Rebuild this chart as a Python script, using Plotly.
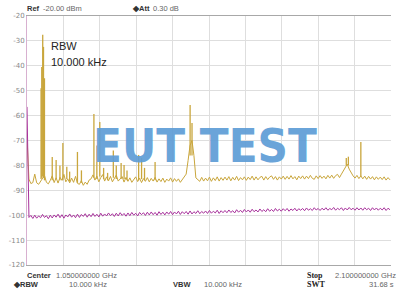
import numpy as np
import plotly.graph_objects as go

# ---------------- data ----------------
F_STOP_GHZ = 2.1
y_ticks = [-20, -30, -40, -50, -60, -70, -80, -90, -100, -110, -120]
y_tick_labels = ["-20", "-30", "-40", "-50", "-60", "-70", "-80", "-90", "-100", "-110", "-120"]

# trace 1 (yellow) - noise floor sampled uniformly 0..2.094 GHz (dBm)
trace1_floor = [
    -68.5, -85.5, -87.3, -86.9, -83.5, -87.0, -87.6, -86.4, -85.2, -84.0, -86.8, -87.4, -86.0,
    -84.2, -86.9, -85.0, -87.1, -84.8, -86.0, -83.6, -86.6, -85.4, -87.0,
    -85.1, -86.8, -84.4, -87.2, -87.6, -86.1, -88.0, -86.7, -87.6, -85.9,
    -85.4, -83.8, -85.9, -84.3, -86.6, -84.9, -83.7, -86.3, -84.6, -86.2,
    -84.4, -86.6, -85.0, -83.9, -86.3, -85.2, -84.5, -86.7, -84.8, -86.4,
    -85.0, -86.8, -85.6, -84.6, -86.5, -85.1, -86.9, -85.3, -86.4, -84.9,
    -86.6, -85.2, -86.3, -84.8, -86.7, -85.4, -86.5, -85.1, -86.8, -85.5,
    -86.3, -85.0, -86.7, -85.3, -86.4, -85.4, -86.8, -85.6, -84.8, -83.5,
    -78.0, -72.0, -70.0, -76.0, -85.0, -85.9, -86.4, -84.8, -86.3, -85.1,
    -86.2, -84.7, -86.4, -85.0, -86.1, -84.6, -86.3, -84.9, -86.0, -84.7,
    -85.9, -84.5, -86.2, -84.8, -85.9, -84.4, -86.1, -84.9, -85.8, -84.6,
    -86.0, -84.7, -85.7, -84.3, -85.9, -84.6, -85.8, -84.8, -84.4, -85.9,
    -84.5, -85.7, -84.7, -84.2, -85.6, -84.5, -85.9, -84.6, -85.5, -84.3,
    -85.6, -84.4, -85.5, -84.1, -85.4, -84.5, -85.8, -84.3, -85.3, -84.2,
    -85.5, -84.3, -85.3, -84.0, -85.2, -85.6, -84.2, -85.3, -84.1, -85.2,
    -84.3, -85.4, -84.0, -85.1, -83.9, -85.2, -84.1, -83.6, -84.9, -83.5,
    -82.0, -80.5, -79.5, -81.5, -83.0, -84.2, -85.1, -84.0, -85.3, -84.2,
    -85.4, -84.3, -85.6, -84.4, -85.5, -84.5, -85.8, -84.6, -85.6, -84.7,
    -85.7, -84.6, -85.9, -84.9, -85.8,
]

# trace 1 (yellow) - discrete spurs: frequency (GHz), base level and peak level (dBm)
spur_freq_ghz = [0.0812, 0.0851, 0.0907, 0.0952, 0.1008, 0.1456, 0.168, 0.190, 0.207, 0.2296,
                 0.246, 0.291, 0.314, 0.386, 0.403, 0.420, 0.442, 0.465, 0.498, 0.515,
                 0.543, 0.560, 0.577, 0.644, 0.661, 0.678, 0.739, 0.941, 0.952, 1.842,
                 1.854, 1.926]
spur_base_dbm = [-85.5, -85.0, -84.5, -85.0, -86.0, -86.0, -85.5, -86.0, -86.0, -85.5,
                 -86.5, -87.0, -87.0, -85.0, -85.5, -84.5, -85.5, -86.0, -85.0, -85.5,
                 -85.5, -85.5, -86.0, -86.0, -85.5, -86.0, -86.0, -76.0, -76.0, -80.0,
                 -80.0, -84.5]
spur_level_dbm = [-49.0, -40.5, -27.5, -32.4, -45.0, -76.6, -77.8, -80.0, -71.0, -80.5,
                  -82.5, -74.6, -82.0, -59.4, -72.0, -62.6, -81.0, -83.0, -74.0, -80.0,
                  -79.0, -79.8, -82.0, -75.8, -77.0, -81.0, -78.6, -55.7, -63.0, -77.0,
                  -76.5, -70.6]

# trace 2 (magenta) sampled uniformly 0..2.094 GHz (dBm)
trace2 = [
    -56.5, -100.9, -100.1, -101.3, -100.0, -101.2, -100.3, -101.0, -99.7, -100.9, -100.2, -101.4, -100.0,
    -101.1, -99.9, -100.8, -99.6, -101.0, -99.8, -101.2, -99.9, -100.7, -99.5,
    -100.8, -99.9, -101.0, -99.6, -100.9, -99.7, -100.5, -99.4, -100.8, -99.6,
    -100.6, -99.3, -100.5, -99.6, -100.7, -99.2, -100.4, -99.5, -100.3, -99.1,
    -100.2, -99.4, -100.5, -99.2, -100.3, -99.0, -100.1, -99.3, -100.4, -99.1,
    -100.2, -98.9, -100.0, -99.2, -100.3, -98.9, -99.8, -99.0, -100.1, -98.8,
    -99.9, -98.7, -99.8, -98.9, -100.0, -98.6, -99.7, -98.8, -99.9, -98.7,
    -99.6, -98.5, -99.8, -98.7, -99.5, -98.4, -99.7, -98.6, -99.4, -98.5,
    -99.6, -98.3, -99.5, -98.6, -99.3, -98.2, -99.4, -98.5, -99.2, -98.3,
    -99.3, -98.1, -99.2, -98.4, -99.1, -98.0, -99.3, -98.2, -99.0, -98.1,
    -99.0, -97.9, -98.9, -98.2, -99.1, -97.8, -98.8, -98.0, -98.9, -97.7,
    -98.7, -97.9, -98.8, -97.6, -98.6, -97.9, -98.7, -97.5, -98.5, -97.8,
    -98.6, -97.4, -98.4, -97.7, -98.5, -97.3, -98.3, -97.6, -98.4, -97.4,
    -98.2, -97.3, -98.4, -97.5, -98.1, -97.2, -98.3, -97.4, -98.0, -97.3,
    -98.2, -97.1, -98.0, -97.4, -98.1, -97.0, -97.9, -97.3, -98.1, -97.2,
    -97.9, -97.0, -98.0, -97.3, -97.8, -96.9, -98.0, -97.2, -97.8, -97.0,
    -98.1, -97.1, -97.9, -96.9, -97.8, -97.2, -98.0, -97.0, -97.9, -97.1,
    -98.0, -97.0, -97.8, -97.2, -98.1, -97.0, -97.9, -97.1, -98.0, -97.2,
    -97.9, -97.0, -98.1, -97.2, -97.8,
]

header_texts = ["Ref", "-20.00 dBm", "\u25c6Att", "0.30 dB"]
footer_texts = ["Center", "1.050000000 GHz", "\u25c6RBW", "10.000 kHz", "VBW", "10.000 kHz",
                "Stop", "2.100000000 GHz", "SWT", "31.68 s"]
rbw_label = ["RBW", "10.000 kHz"]
watermark = "EUT TEST"

# ---------------- build ----------------
f1 = np.linspace(0, 2.094, len(trace1_floor))
f2 = np.linspace(0, 2.094, len(trace2))

# spurs drawn as thin vertical lines
sx, sy = [], []
for f, b, p in zip(spur_freq_ghz, spur_base_dbm, spur_level_dbm):
    sx += [f, f, None]
    sy += [b, p, None]

fig = go.Figure()
fig.add_trace(go.Scatter(x=f1, y=trace1_floor, mode="lines",
                         line=dict(color="#c9a63c", width=1), hoverinfo="skip"))
fig.add_trace(go.Scatter(x=sx, y=sy, mode="lines", connectgaps=False,
                         line=dict(color="#c9a63c", width=1.3), hoverinfo="skip"))
fig.add_trace(go.Scatter(x=f2, y=trace2, mode="lines",
                         line=dict(color="#a8329c", width=1), hoverinfo="skip"))

L, R, T, B = 16, 9, 16, 27
W, H = 400, 292
PW, PH = W - L - R, H - T - B


def px(x):
    return (x - L) / PW


def py(y):
    return (H - B - y) / PH


def ann(text, x, y, size=7.5, color="#555", bold=False, family="Liberation Sans",
        xanchor="left"):
    t = f"<b>{text}</b>" if bold else text
    return dict(text=t, x=px(x), y=py(y), xref="paper", yref="paper", showarrow=False,
                xanchor=xanchor, yanchor="middle", font=dict(size=size, color=color, family=family))


annotations = [
    ann(header_texts[0], 14, 8, size=7.5, color="#333", bold=True),
    ann(header_texts[1], 30, 8, size=7.5, color="#666"),
    ann(header_texts[2], 122, 8, size=7.5, color="#333", bold=True),
    ann(header_texts[3], 144, 8, size=7.5, color="#666"),
    ann(footer_texts[0], 14, 275, size=7.5, color="#333", bold=True),
    ann(footer_texts[1], 44, 275, size=7.5, color="#666"),
    ann(footer_texts[2], 0, 284, size=7.5, color="#333", bold=True),
    ann(footer_texts[3], 100, 284, size=7.5, color="#666", xanchor="right"),
    ann(footer_texts[4], 164, 284, size=7.5, color="#333", bold=True),
    ann(footer_texts[5], 240, 284, size=7.5, color="#666", xanchor="right"),
    ann(footer_texts[6], 302, 275, size=8, color="#222", bold=True, family="Liberation Serif"),
    ann(footer_texts[7], 398, 275, size=7.5, color="#666", xanchor="right"),
    ann(footer_texts[8], 302, 284, size=8, color="#222", bold=True, family="Liberation Serif"),
    ann(footer_texts[9], 396, 284, size=7.5, color="#666", xanchor="right"),
    ann(rbw_label[0], 39, 46, size=11, color="#222"),
    ann(rbw_label[1], 39, 62, size=11, color="#222"),
    dict(text=watermark, x=px(199), y=py(145), xref="paper", yref="paper",
         showarrow=False, xanchor="center", yanchor="middle", opacity=0.92,
         font=dict(size=47, color="#5e9dd6", weight=700,
                   family="DejaVu Sans Condensed, DejaVu Sans")),
]

fig.update_layout(
    width=W, height=H,
    margin=dict(l=L, r=R, t=T, b=B, pad=0),
    paper_bgcolor="white", plot_bgcolor="white",
    showlegend=False,
    annotations=annotations,
    xaxis=dict(range=[0, F_STOP_GHZ], dtick=0.21, tick0=0, showticklabels=False,
               showgrid=True, gridcolor="#dedede", gridwidth=1, zeroline=False,
               showline=True, linecolor="#a8a8a8", linewidth=1, mirror=True, ticks=""),
    yaxis=dict(range=[-120, -20], tickvals=y_ticks, ticktext=y_tick_labels,
               showgrid=True, gridcolor="#dedede", gridwidth=1, zeroline=False,
               showline=True, linecolor="#d8b0d0", linewidth=1, ticks="",
               tickfont=dict(size=7, color="#888", family="DejaVu Sans")),
)

fig.write_html("out.html")
